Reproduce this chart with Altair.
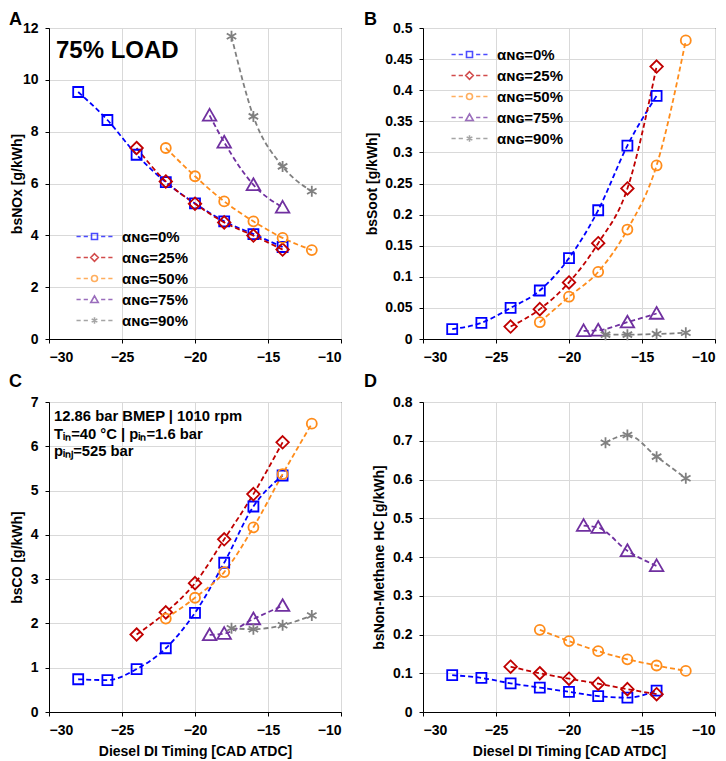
import altair as alt
import pandas as pd

series = ["αɴɢ=0%", "αɴɢ=25%", "αɴɢ=50%", "αɴɢ=75%", "αɴɢ=90%"]
colors = ["#0000FF", "#C00000", "#FF8C1A", "#7030A0", "#808080"]

timing_0 = [-28, -26, -24, -22, -20, -18, -16, -14]
timing_25 = [-24, -22, -20, -18, -16, -14]
timing_50 = [-22, -20, -18, -16, -14, -12]
timing_75 = [-19, -18, -16, -14]
timing_90 = [-17.5, -16, -14, -12]

nox_0 = [9.53, 8.45, 7.11, 6.05, 5.23, 4.54, 4.05, 3.55]
nox_25 = [7.37, 6.08, 5.22, 4.50, 3.99, 3.45]
nox_50 = [7.37, 6.28, 5.31, 4.54, 3.90, 3.43]
nox_75 = [8.63, 7.59, 5.95, 5.08]
nox_90 = [11.68, 8.59, 6.66, 5.70]

soot_0 = [0.016, 0.026, 0.050, 0.078, 0.130, 0.207, 0.311, 0.391]
soot_25 = [0.020, 0.048, 0.091, 0.154, 0.242, 0.438]
soot_50 = [0.027, 0.068, 0.108, 0.176, 0.279, 0.480]
soot_75 = [0.013, 0.014, 0.027, 0.041]
soot_90 = [0.007, 0.007, 0.008, 0.010]

co_0 = [0.74, 0.72, 0.97, 1.44, 2.24, 3.37, 4.64, 5.34]
co_25 = [1.75, 2.25, 2.91, 3.90, 4.92, 6.09]
co_50 = [2.11, 2.58, 3.16, 4.17, 5.37, 6.51]
co_75 = [1.74, 1.77, 2.10, 2.40]
co_90 = [1.89, 1.87, 1.96, 2.18]

hc_0 = [0.095, 0.088, 0.074, 0.063, 0.052, 0.041, 0.037, 0.055]
hc_25 = [0.117, 0.100, 0.086, 0.073, 0.059, 0.046]
hc_50 = [0.212, 0.183, 0.157, 0.136, 0.120, 0.106]
hc_75 = [0.481, 0.476, 0.416, 0.377]
hc_90 = [0.695, 0.715, 0.659, 0.603]

x_ticks = [-30, -25, -20, -15, -10]
nox_ticks = [0, 2, 4, 6, 8, 10, 12]
soot_ticks = [0, 0.05, 0.1, 0.15, 0.2, 0.25, 0.3, 0.35, 0.4, 0.45, 0.5]
co_ticks = [0, 1, 2, 3, 4, 5, 6, 7]
hc_ticks = [0, 0.1, 0.2, 0.3, 0.4, 0.5, 0.6, 0.7, 0.8]

info_lines = ["12.86 bar BMEP | 1010 rpm", "Tᵢₙ=40 °C | pᵢₙ=1.6 bar", "pᵢₙⱼ=525 bar"]

rows = []
groups = [
    (series[0], timing_0, nox_0, soot_0, co_0, hc_0),
    (series[1], timing_25, nox_25, soot_25, co_25, hc_25),
    (series[2], timing_50, nox_50, soot_50, co_50, hc_50),
    (series[3], timing_75, nox_75, soot_75, co_75, hc_75),
    (series[4], timing_90, nox_90, soot_90, co_90, hc_90),
]
for name, t, a, b, c, d in groups:
    for i in range(len(t)):
        rows.append({"series": name, "timing": t[i], "nox": a[i], "soot": b[i], "co": c[i], "hc": d[i]})
df = pd.DataFrame(rows)

point_paths = [
    "M-1,-1H1V1H-1Z",
    "M0,-1.25L1.25,0L0,1.25L-1.25,0Z",
    "circle",
    "M0,-1.3L1.35,1.05H-1.35Z",
    "M0,-1.1V1.1M-0.95,-0.55L0.95,0.55M-0.95,0.55L0.95,-0.55",
]
dl = "M-6,0H-4.6M-3.6,0H-2.2M2.2,0H3.6M4.6,0H6"
legend_paths = [
    dl + "M-1,-1H1V1H-1Z",
    dl + "M0,-1.25L1.25,0L0,1.25L-1.25,0Z",
    dl + "M1,0A1,1,0,1,1,-1,0A1,1,0,1,1,1,0Z",
    dl + "M0,-1.2L1.25,1H-1.25Z",
    dl + "M0,-1.1V1.1M-0.95,-0.55L0.95,0.55M-0.95,0.55L0.95,-0.55",
]

W = 292
FONT = "Liberation Sans"
note_df = pd.DataFrame({"k": [0]})


def letter_mark(letter, dx, dy):
    return alt.Chart(note_df).mark_text(text=letter, font=FONT, fontSize=18, fontWeight="bold",
                                        align="left", baseline="alphabetic", color="black").encode(
        x=alt.value(dx), y=alt.value(dy))


def panel(field, letter, letter_pos, ydomain, yticks, ytitle, title_x, xtitle, h, legend_xy=None, extra=None):
    base = alt.Chart(df)
    x = alt.X("timing:Q", scale=alt.Scale(domain=[-30, -10], nice=False),
              axis=alt.Axis(values=x_ticks, title=xtitle, titlePadding=7))
    y = alt.Y(f"{field}:Q", scale=alt.Scale(domain=ydomain, nice=False),
              axis=alt.Axis(values=yticks, title=ytitle, format="~g", titleX=title_x, titleY=h / 2))
    cscale = alt.Scale(domain=series, range=colors)
    lines = base.mark_line(strokeDash=[5, 3], strokeWidth=1.8, interpolate="monotone").encode(
        x=x, y=y, color=alt.Color("series:N", scale=cscale, legend=None), detail="series:N")
    points = base.mark_point(filled=False, size=100, opacity=1).encode(
        x=x, y=y,
        color=alt.Color("series:N", scale=cscale, legend=None),
        shape=alt.Shape("series:N", scale=alt.Scale(domain=series, range=point_paths), legend=None),
        strokeWidth=alt.StrokeWidth("series:N", scale=alt.Scale(domain=series, range=[1.8, 1.8, 1.8, 1.8, 2.6]), legend=None),
    )
    layers = [lines, points]
    if legend_xy is not None:
        leg = dict(orient="none", legendX=legend_xy[0], legendY=legend_xy[1], title=None,
                   labelFont=FONT, labelFontSize=15, labelFontWeight="bold", labelColor="black",
                   symbolSize=36, symbolStrokeWidth=1.6, labelOffset=20, rowPadding=5, padding=0)
        legend_layer = base.transform_filter("false").mark_point(filled=False).encode(
            x=x, y=y,
            color=alt.Color("series:N", scale=cscale, legend=alt.Legend(**leg)),
            shape=alt.Shape("series:N", scale=alt.Scale(domain=series, range=legend_paths), legend=alt.Legend(**leg)),
        )
        layers.append(legend_layer)
    if extra is not None:
        layers.append(extra)
    layers.append(letter_mark(letter, letter_pos[0], letter_pos[1]))
    ch = alt.layer(*layers).resolve_scale(color="independent", shape="independent").properties(
        width=W, height=h)
    return ch


load_text = alt.Chart(note_df).mark_text(text="75% LOAD", font=FONT, fontSize=24, fontWeight="bold",
                                         align="left", baseline="alphabetic", color="black").encode(
    x=alt.value(7), y=alt.value(30))
info_text = alt.Chart(note_df).mark_text(text=info_lines, font=FONT, fontSize=14.8, fontWeight="bold",
                                         align="left", baseline="alphabetic", color="black", lineHeight=17.5).encode(
    x=alt.value(5), y=alt.value(19))

pA = panel("nox", "A", (-40, -3.5), [0, 12], nox_ticks, "bsNOx [g/kWh]", -25, None, 311,
           legend_xy=(38, 201), extra=load_text)
pB = panel("soot", "B", (-59, -3.5), [0, 0.5], soot_ticks, "bsSoot [g/kWh]", -44, None, 311,
           legend_xy=(39, 19))
pC = panel("co", "C", (-40, -15), [0, 7], co_ticks, "bsCO [g/kWh]", -25, "Diesel DI Timing [CAD ATDC]", 310,
           extra=info_text)
pD = panel("hc", "D", (-59, -15), [0, 0.8], hc_ticks, "bsNon-Methane HC [g/kWh]", -37, "Diesel DI Timing [CAD ATDC]", 310)

chart = alt.vconcat(
    alt.hconcat(pA, pB, spacing=21),
    alt.hconcat(pC, pD, spacing=21),
    spacing=7,
).properties(padding={"top": 2, "left": 0, "right": 0, "bottom": 0}).configure(font=FONT).configure_view(
    stroke="black", strokeWidth=1
).configure_axis(
    labelFont=FONT, labelFontSize=14, labelFontWeight="bold", labelColor="black",
    titleFont=FONT, titleFontSize=14, titleFontWeight="bold", titleColor="black",
    domainColor="black", domainWidth=1, tickColor="black", tickSize=4, tickWidth=1,
    labelPadding=7, gridColor="#d9d9d9", gridWidth=1,
)

chart.save("out.html", embed_options={"renderer": "svg", "actions": False})
